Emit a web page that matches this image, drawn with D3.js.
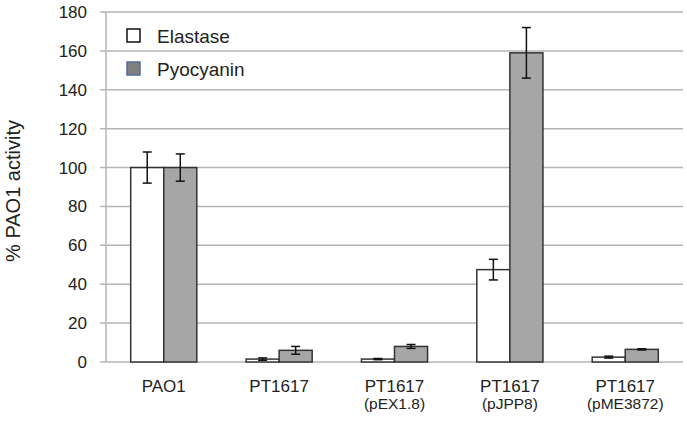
<!DOCTYPE html>
<html>
<head>
<meta charset="utf-8">
<script src="https://cdn.jsdelivr.net/npm/d3@7"></script>
<style>
  body { margin: 0; background: #fff; }
  text { font-family: "Liberation Sans", Arial, sans-serif; fill: #222; }
</style>
</head>
<body>
<div id="chart"></div>
<script>
// data
var strains = ["PAO1", "PT1617", "PT1617", "PT1617", "PT1617"];
var plasmids = ["", "", "(pEX1.8)", "(pJPP8)", "(pME3872)"];
var series = ["Elastase", "Pyocyanin"];
var elastase = [100, 1.5, 1.5, 47.5, 2.5];
var elastaseErr = [8, 0.6, 0.3, 5.3, 0.5];
var pyocyanin = [100, 6, 8, 159, 6.5];
var pyocyaninErr = [7, 2, 1, 13, 0.3];
var yTicks = [0, 20, 40, 60, 80, 100, 120, 140, 160, 180];

var W = 687, H = 421;
var margin = { top: 12, right: 4, bottom: 59, left: 106 };
var width = W - margin.left - margin.right;
var height = H - margin.top - margin.bottom;

var svg = d3.select("#chart")
  .append("svg")
  .attr("width", W)
  .attr("height", H)
  .append("g")
  .attr("transform", "translate(" + margin.left + "," + margin.top + ")");

var x0 = d3.scaleBand()
  .domain(d3.range(strains.length))
  .range([0, width])
  .paddingInner(0.427)
  .paddingOuter(0.214);

var x1 = d3.scaleBand()
  .domain(series)
  .range([0, x0.bandwidth()]);

var y = d3.scaleLinear()
  .domain([0, 180])
  .range([height, 0]);

// gridlines
svg.selectAll(".grid")
  .data(yTicks)
  .enter()
  .append("line")
  .attr("x1", -6)
  .attr("x2", width)
  .attr("y1", function (d) { return y(d); })
  .attr("y2", function (d) { return y(d); })
  .attr("stroke", "#b5b5b5")
  .attr("stroke-width", 1.5);

// y axis line
svg.append("line")
  .attr("x1", 0).attr("x2", 0)
  .attr("y1", 0).attr("y2", height)
  .attr("stroke", "#b5b5b5")
  .attr("stroke-width", 1.5);

// y tick labels
svg.selectAll(".ylab")
  .data(yTicks)
  .enter()
  .append("text")
  .attr("x", -19)
  .attr("y", function (d) { return y(d); })
  .attr("dy", "0.35em")
  .attr("text-anchor", "end")
  .style("font-size", "17px")
  .text(function (d) { return d; });

// y title
svg.append("text")
  .attr("transform", "translate(" + (-86) + "," + (height / 2 + 4) + ") rotate(-90)")
  .attr("text-anchor", "middle")
  .style("font-size", "20px")
  .text("% PAO1 activity");

var rows = strains.map(function (s, i) {
  return [
    { i: i, key: "Elastase", v: elastase[i], e: elastaseErr[i] },
    { i: i, key: "Pyocyanin", v: pyocyanin[i], e: pyocyaninErr[i] }
  ];
});

var color = d3.scaleOrdinal()
  .domain(series)
  .range(["#ffffff", "#a6a6a6"]);

var groups = svg.selectAll(".grp")
  .data(rows)
  .enter()
  .append("g")
  .attr("transform", function (d, i) { return "translate(" + x0(i) + ",0)"; });

groups.selectAll("rect")
  .data(function (d) { return d; })
  .enter()
  .append("rect")
  .attr("x", function (d) { return x1(d.key); })
  .attr("y", function (d) { return y(d.v); })
  .attr("width", x1.bandwidth())
  .attr("height", function (d) { return y(0) - y(d.v); })
  .attr("fill", function (d) { return color(d.key); })
  .attr("stroke", "#333")
  .attr("stroke-width", 1.5);

// error bars
var err = groups.selectAll(".err")
  .data(function (d) { return d; })
  .enter()
  .append("g")
  .attr("stroke", "#111")
  .attr("stroke-width", 1.5);

err.append("line")
  .attr("x1", function (d) { return x1(d.key) + x1.bandwidth() / 2; })
  .attr("x2", function (d) { return x1(d.key) + x1.bandwidth() / 2; })
  .attr("y1", function (d) { return y(d.v + d.e); })
  .attr("y2", function (d) { return y(d.v - d.e); });
[1, -1].forEach(function (s) {
  err.append("line")
    .attr("x1", function (d) { return x1(d.key) + x1.bandwidth() / 2 - 4.5; })
    .attr("x2", function (d) { return x1(d.key) + x1.bandwidth() / 2 + 4.5; })
    .attr("y1", function (d) { return y(d.v + s * d.e); })
    .attr("y2", function (d) { return y(d.v + s * d.e); });
});

// x labels
svg.selectAll(".xlab")
  .data(strains)
  .enter()
  .append("text")
  .attr("x", function (d, i) { return x0(i) + x0.bandwidth() / 2; })
  .attr("y", height + 30)
  .attr("text-anchor", "middle")
  .style("font-size", "17px")
  .text(function (d) { return d; });

svg.selectAll(".xsub")
  .data(plasmids)
  .enter()
  .append("text")
  .attr("x", function (d, i) { return x0(i) + x0.bandwidth() / 2; })
  .attr("y", height + 47)
  .attr("text-anchor", "middle")
  .style("font-size", "15.5px")
  .text(function (d) { return d; });

// legend
var legend = svg.append("g").attr("transform", "translate(21,17)");
var lg = legend.selectAll(".lg")
  .data(series)
  .enter()
  .append("g")
  .attr("transform", function (d, i) { return "translate(0," + (i * 33) + ")"; });
lg.append("rect")
  .attr("width", 13)
  .attr("height", 13)
  .attr("fill", function (d, i) { return i ? "#808080" : "#fff"; })
  .attr("stroke", function (d, i) { return i ? "#4f6d99" : "#111"; })
  .attr("stroke-width", 1.5);
lg.append("text")
  .attr("x", 30)
  .attr("y", 7)
  .attr("dy", "0.35em")
  .style("font-size", "19px")
  .text(function (d) { return d; });
</script>
</body>
</html>
